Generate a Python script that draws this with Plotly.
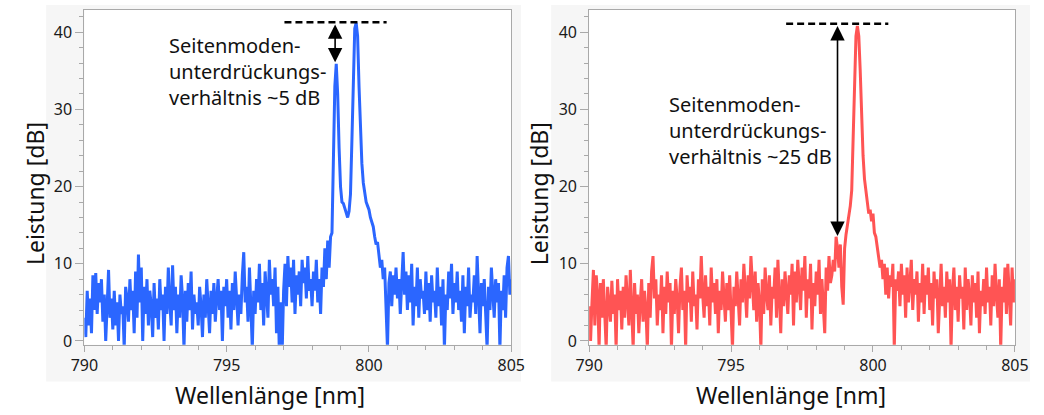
import numpy as np
import plotly.graph_objects as go

W, H = 1044, 415

wl_start, wl_end, wl_step = 790.0, 805.0, 0.05
x_ticks = [790, 795, 800, 805]
y_ticks = [0, 10, 20, 30, 40]

blue_power = [
    3.0, 0.5, 6.5, 2.0, 5.5, 1.0, 8.5, 4.0, 8.8, 3.5, 7.5, 5.0, 8.0, 2.5, 6.0, 0.0, 4.5, 9.2, 3.0, 5.5,
    1.5, 6.5, 2.0, 5.0, 0.0, 6.0, 3.5, 4.5, -1.0, 7.0, 5.5, 2.5, 8.0, 4.0, 6.5, 1.0, 9.0, 3.0, 11.2, 5.0,
    9.5, 0.0, 7.0, 3.5, 8.0, 2.0, 6.5, 4.5, 0.5, 7.5, 3.0, 5.5, 1.5, 8.0, 4.0, 6.0, 0.0, 7.0, 3.5, 9.5,
    5.0, 2.0, 9.8, 4.0, 7.0, 1.0, 6.0, 3.0, 8.5, 5.5, -1.0, 6.5, 2.5, 7.5, 4.0, 9.0, 1.5, 6.0, 3.5, 5.0,
    2.0, 7.0, 4.5, 0.5, 6.0, 3.0, 8.0, 5.0, 1.0, 6.5, 3.5, 7.5, 2.5, 5.5, 8.0, 4.0, 6.5, 0.0, 7.0, 4.5,
    8.0, 3.0, 6.5, 1.5, 7.5, 4.0, 9.0, 5.5, 2.0, 6.0, 3.5, 8.5, 11.5, 5.0, 7.0, 2.5, 9.5, 4.5, -1.0, 6.5,
    3.5, 8.0, 5.0, 10.0, 4.0, 7.5, 2.0, 9.0, 5.5, 3.0, 10.5, 6.0, 8.0, 4.5, 9.5, 1.0, 7.0, -1.5, 5.0, -1.5,
    6.5, 10.0, 4.5, 11.0, 7.0, 9.5, 5.0, 10.5, 3.5, 8.5, 6.0, 9.0, 4.5, 10.5, 7.5, 9.5, 5.5, 11.0, 6.5, 8.0,
    4.5, 9.0, 6.5, 10.5, 5.0, 8.0, 3.5, 9.5, 7.0, 12.0, 8.0, 13.0, 9.5, 13.5, 14.0, 24.0, 33.0, 35.9, 32.0, 25.0,
    20.0, 18.0, 17.8, 17.2, 16.5, 16.0, 16.8, 19.0, 26.0, 35.0, 40.5, 41.2, 39.5, 33.0, 27.0, 23.0, 20.5, 19.0, 18.0, 17.5,
    17.0, 16.0, 15.5, 14.8, 13.5, 12.5, 12.8, 11.0, 9.5, 10.5, 8.0, 9.5, 3.0, -1.0, 7.5, 9.0, 4.5, 8.5, 6.0, 9.5,
    5.5, 8.0, 3.5, 7.5, 11.5, 6.0, 9.0, 4.0, 8.5, 5.0, 10.0, 2.0, 7.0, 4.5, 9.5, 3.0, 8.0, 5.5, 6.5, 3.5,
    9.0, 4.0, 7.5, 2.5, 8.5, 5.0, 6.5, 3.0, 9.5, 4.5, 7.0, 2.0, 8.0, -1.0, 6.0, 4.0, 9.0, 5.5, 10.0, 3.5,
    7.5, 5.0, 9.0, 4.0, 6.5, 2.5, 8.5, 1.0, 7.0, 4.5, 9.5, 3.0, 6.0, 5.0, 8.5, 3.5, 11.0, 6.0, 1.0, 7.5,
    4.5, 8.0, 2.5, -1.0, 7.0, 4.0, 9.5, 5.5, 3.0, 8.0, 5.0, 7.5, -1.0, 6.5, 4.0, 8.5, 3.0, 9.5, 11.0, 6.0,
    8.0,
]

red_power = [
    4.5, 0.0, 5.0, 9.2, 2.0, 8.5, 6.0, -1.0, 7.5, 3.0, 8.0, 4.5, -1.0, 7.0, 5.0, 2.5, 7.8, 3.5, 6.0, -1.0,
    8.0, 4.0, 6.5, 1.5, 7.0, 3.0, 8.5, 5.5, 2.0, 9.2, 4.5, -1.0, 7.5, 3.5, 6.0, 1.0, 5.0, 8.0, 2.5, 6.5,
    4.0, -1.0, 7.5, 3.0, 9.0, 11.0, 5.5, 8.0, 2.0, 6.0, 4.0, 8.5, 1.0, 7.0, 3.5, 9.0, 5.0, 7.5, -1.0, 6.5,
    3.5, 8.0, 5.5, 1.0, 7.0, 9.5, 4.0, 6.5, -1.0, 8.5, 5.0, 7.0, 2.5, 9.0, 4.5, 6.0, 1.5, 8.0, 5.5, 11.0,
    6.0, 3.0, 8.5, 4.5, 7.0, 2.0, 9.5, 5.0, 7.5, 3.5, 8.0, 1.0, 6.5, 4.0, 9.0, 5.5, 2.5, 7.5, 4.0, 8.5,
    3.0, -1.0, 7.0, 4.5, 9.0, 6.0, 2.0, 8.0, 5.0, 10.0, 7.0, 3.0, 8.5, 5.5, 11.0, 6.5, 4.0, 9.0, 2.5, 7.5,
    5.0, -1.0, 8.0, 3.5, 9.5, 6.0, 4.0, 8.5, 2.0, 7.0, 5.5, 9.5, 3.0, 10.5, 6.5, 1.0, 8.0, 4.5, 9.0, 5.5,
    3.5, 8.5, 6.0, 10.0, 2.0, 9.0, 5.0, 10.5, 7.0, 4.0, 9.5, 6.5, 11.0, 3.0, 8.0, 5.5, 10.0, 1.5, 7.5, 4.5,
    9.0, 6.0, 10.5, 3.5, 8.0, 5.0, 1.0, 9.5, 6.5, 11.0, 7.5, 8.5, 10.5, 9.0, 13.5, 12.0, 9.5, 12.5, 7.0, 4.7,
    12.0, 13.8, 15.0, 16.0, 17.5, 19.5, 26.0, 34.0, 39.5, 40.8, 39.5, 35.0, 29.0, 24.0, 21.0, 19.5, 18.0, 16.5, 17.0, 15.5,
    16.5, 14.0, 13.5, 12.0, 11.0, 9.5, 10.5, 8.0, 10.0, 6.0, 9.5, 5.5, 8.5, 7.0, 10.0, -1.0, 8.0, 6.5, 9.0, 4.5,
    10.0, 6.0, 8.5, 3.0, 9.5, 5.0, 7.5, 10.5, 4.0, 8.0, 6.0, 9.0, 2.5, 7.5, 5.0, 10.0, 3.5, 8.5, 6.0, 9.5,
    4.0, 7.5, 2.0, 9.0, 5.5, 8.0, 1.0, 6.5, 10.0, 4.5, 7.0, 3.0, 9.0, 5.0, 8.0, -1.0, 6.5, 9.5, 4.0, 7.0,
    2.5, 8.5, 5.5, 7.0, 1.5, 9.5, 4.0, 8.0, 6.0, 2.0, 8.5, 5.0, 7.5, 3.0, 9.0, 1.0, 6.5, 4.5, 8.0, 3.5,
    9.5, 5.0, 7.0, 2.0, 8.5, 4.5, 10.0, 6.0, 3.0, 8.0, -1.0, 7.0, 5.0, 9.5, 3.5, 10.0, 6.0, 2.0, 9.5, 5.0,
    8.0,
]

n_pts = len(blue_power)
wavelength = np.round(np.linspace(wl_start, wl_end, n_pts), 3)

label_left = "Seitenmoden-<br>unterdrückungs-<br>verhältnis ~5 dB"
label_right = "Seitenmoden-<br>unterdrückungs-<br>verhältnis ~25 dB"
x_title = "Wellenlänge [nm]"
y_title = "Leistung [dB]"

FONT = "Noto Sans"
BLUE = "#2b66ff"
RED = "#ff5454"
AXC = "#a9a9a9"

def px(v):
    return v / W

def py(v):
    return 1 - v / H

fig = go.Figure()
fig.add_trace(go.Scatter(x=wavelength, y=blue_power, mode="lines",
                         line=dict(color=BLUE, width=3), xaxis="x", yaxis="y",
                         showlegend=False, hoverinfo="skip"))
fig.add_trace(go.Scatter(x=wavelength, y=red_power, mode="lines",
                         line=dict(color=RED, width=3), xaxis="x2", yaxis="y2",
                         showlegend=False, hoverinfo="skip"))

ydom = [py(350.7), py(10.0)]
xdom1 = [px(72.3), px(511.0)]
xdom2 = [px(591.0), px(1028.5)]

common_x = dict(range=[790, 805], tickvals=x_ticks, ticks="outside", ticklen=6,
                tickcolor=AXC, showline=True, linecolor=AXC, linewidth=1, mirror=True,
                showgrid=False, zeroline=False,
                minor=dict(dtick=1, tick0=790, ticks="outside", ticklen=4, tickcolor=AXC),
                tickfont=dict(family=FONT, size=16, color="#1a1a1a"))
common_y = dict(range=[-0.5, 42.9], tickvals=y_ticks, ticks="outside", ticklen=8,
                tickcolor=AXC, showline=True, linecolor=AXC, linewidth=1, mirror=True,
                showgrid=False, zeroline=False,
                minor=dict(dtick=2, tick0=0, ticks="outside", ticklen=4, tickcolor=AXC),
                tickfont=dict(family=FONT, size=16, color="#1a1a1a"))

fig.update_layout(
    width=W, height=H, margin=dict(l=0, r=0, t=0, b=0),
    paper_bgcolor="white", plot_bgcolor="white",
    xaxis=dict(domain=xdom1, anchor="y", **common_x),
    yaxis=dict(domain=ydom, anchor="x", **common_y),
    xaxis2=dict(domain=xdom2, anchor="y2", **common_x),
    yaxis2=dict(domain=ydom, anchor="x2", **common_y),
)

shapes = []
# light grey chart panels
for x0, x1 in [(33, 521), (552, 1044)]:
    shapes.append(dict(type="rect", xref="paper", yref="paper", x0=px(x0), x1=px(x1),
                       y0=py(388), y1=py(5), fillcolor="#f6f6f6", line=dict(width=0), layer="below"))
# white plot areas
for xd in [xdom1, xdom2]:
    shapes.append(dict(type="rect", xref="paper", yref="paper", x0=xd[0], x1=xd[1],
                       y0=ydom[0], y1=ydom[1], fillcolor="white", line=dict(width=0), layer="below"))
# dashed reference lines
shapes.append(dict(type="line", xref="x", yref="y", x0=797.03, x1=800.62, y0=41.3, y1=41.3,
                   line=dict(color="black", width=2.5, dash="7px,4px")))
shapes.append(dict(type="line", xref="x2", yref="y2", x0=796.94, x1=800.54, y0=41.1, y1=41.1,
                   line=dict(color="black", width=2.5, dash="7px,4px")))
fig.update_layout(shapes=shapes)

annotations = [
    dict(x=798.81, y=36.1, ax=798.81, ay=41.2, xref="x", yref="y", axref="x", ayref="y",
         showarrow=True, arrowhead=2, startarrowhead=2, arrowside="end+start", arrowsize=1.8,
         startarrowsize=1.8, arrowwidth=1.6, arrowcolor="black", standoff=0, startstandoff=0, text=""),
    dict(x=798.75, y=13.6, ax=798.75, ay=41.0, xref="x2", yref="y2", axref="x2", ayref="y2",
         showarrow=True, arrowhead=2, startarrowhead=2, arrowside="end+start", arrowsize=1.8,
         startarrowsize=1.8, arrowwidth=1.6, arrowcolor="black", standoff=0, startstandoff=0, text=""),
    dict(x=px(157), y=py(72.5), xref="paper", yref="paper", xanchor="left", yanchor="middle",
         align="left", showarrow=False, text=label_left,
         font=dict(family=FONT, size=20, color="#111")),
    dict(x=px(671.5), y=py(133), xref="paper", yref="paper", xanchor="left", yanchor="middle",
         align="left", showarrow=False, text=label_right,
         font=dict(family=FONT, size=20, color="#111")),
    dict(x=px(263), y=py(402), xref="paper", yref="paper", xanchor="center", yanchor="middle",
         showarrow=False, text=x_title, font=dict(family=FONT, size=23, color="#111")),
    dict(x=px(798), y=py(402), xref="paper", yref="paper", xanchor="center", yanchor="middle",
         showarrow=False, text=x_title, font=dict(family=FONT, size=23, color="#111")),
    dict(x=px(21), y=py(197), xref="paper", yref="paper", xanchor="center", yanchor="middle",
         showarrow=False, text=y_title, textangle=-90, font=dict(family=FONT, size=23, color="#111")),
    dict(x=px(539), y=py(197), xref="paper", yref="paper", xanchor="center", yanchor="middle",
         showarrow=False, text=y_title, textangle=-90, font=dict(family=FONT, size=23, color="#111")),
]
fig.update_layout(annotations=annotations)

fig.write_html("out.html")
